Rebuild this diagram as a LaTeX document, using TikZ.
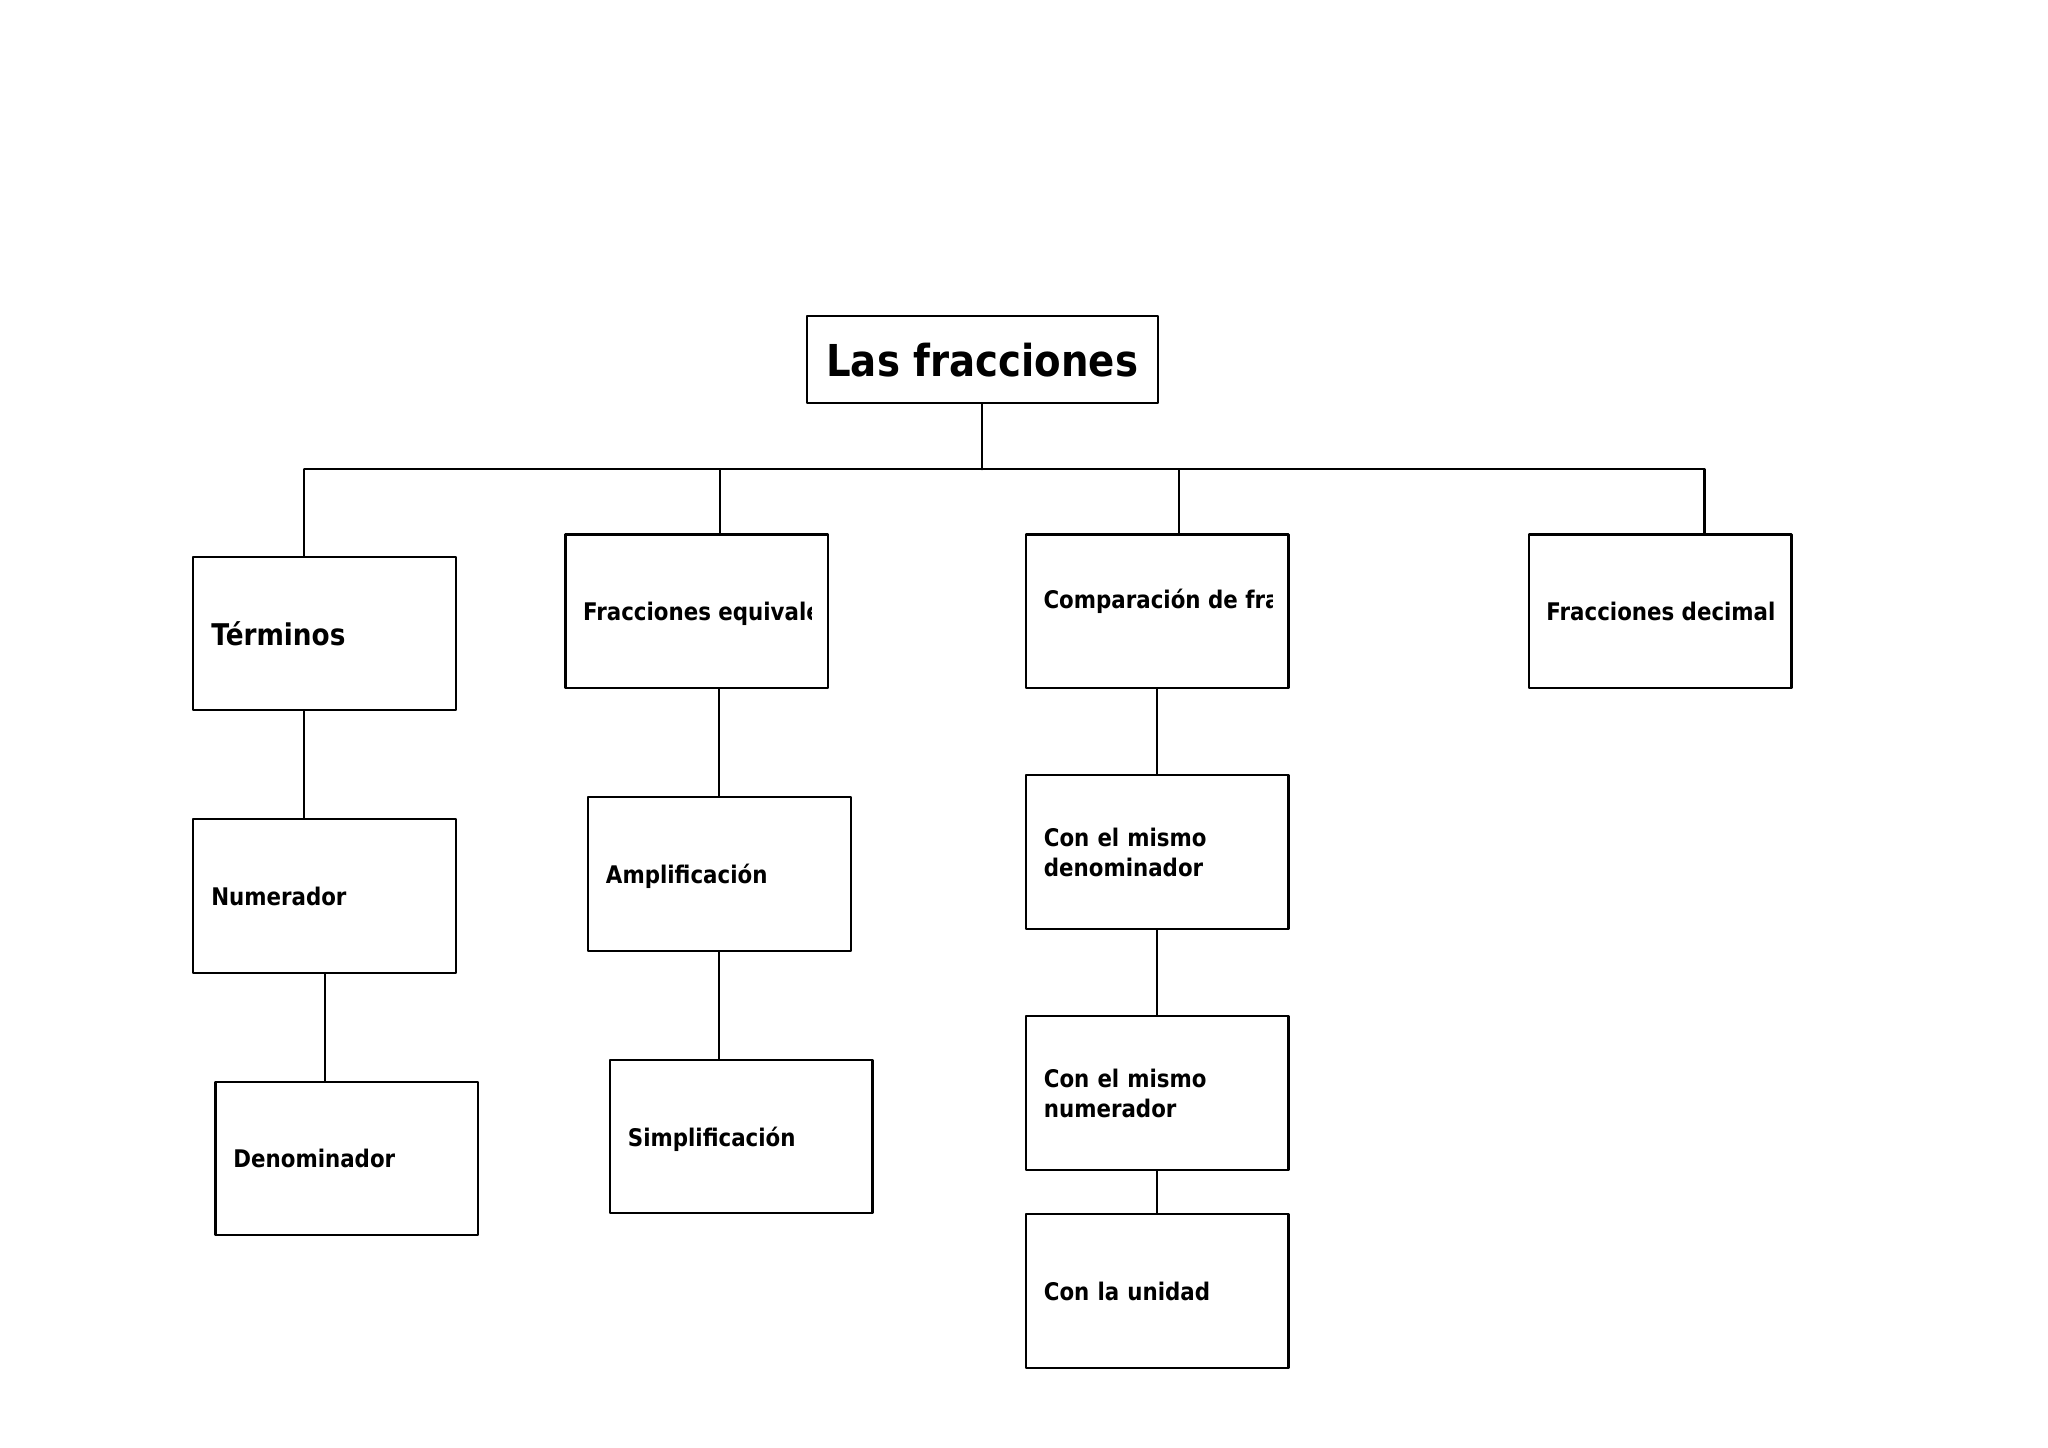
\documentclass[tikz,border=0pt]{standalone}
\usepackage{fontspec}
\newfontfamily\cajafont[FakeStretch=0.88]{DejaVu Sans}
\begin{document}
\begin{tikzpicture}[x=0.01cm,y=-0.01cm,line cap=round,line join=round,
  caja/.style={draw,line width=0.6pt,minimum width=2.625cm,minimum height=1.536cm,
    inner xsep=1.8mm,inner ysep=0pt,text width=2.265cm,align=left,text depth=0pt,
    font=\cajafont\bfseries\fontsize{6.9}{8.5}\selectfont},
  rotulo/.style={anchor=west,inner sep=0pt,text depth=0pt,
    font=\cajafont\bfseries\fontsize{6.9}{8.5}\selectfont}]
  \useasboundingbox (0,0) rectangle (2048,1447);
  \node[draw,line width=0.6pt,minimum width=3.51cm,minimum height=0.876cm,inner sep=0pt,
    text depth=0pt,font=\cajafont\bfseries\fontsize{12.5}{15}\selectfont] (tit) at (982.2,359.5) {Las fracciones};
  % primer nivel
  \node[caja,font=\cajafont\bfseries\fontsize{8.5}{10}\selectfont] (ter) at (324.6,633.5) {Términos};
  \node[caja] (fe) at (696.8,611.3) {};
  \node[caja] (comp) at (1157.2,611.3) {};
  \node[caja] (fd) at (1660.1,611.3) {};
  % segundo nivel
  \node[caja] (num) at (324.6,896.0) {Numerador};
  \node[caja] (den) at (346.8,1158.5) {Denominador};
  \node[caja] (amp) at (719.3,873.8) {Amplificación};
  \node[caja] (sim) at (741.2,1136.5) {Simplificación};
  \node[caja,text depth=] (cmd) at (1157.2,852.2) {Con el mismo\\denominador};
  \node[caja,text depth=] (cmn) at (1157.2,1093.0) {Con el mismo\\numerador};
  \node[caja] (cu) at (1157.2,1291.0) {Con la unidad};
  % textos cortados
  \begin{scope}
    \clip ([xshift=1.75mm]fe.south west) rectangle ([xshift=-1.75mm]fe.north east);
    \node[rotulo] (fe-t) at ([xshift=1.8mm]fe.west) {Fracciones equivalentes};
  \end{scope}
  \begin{scope}
    \clip ([xshift=1.75mm]comp.south west) rectangle ([xshift=-1.75mm]comp.north east);
    \node[rotulo] (comp-t) at ([xshift=1.8mm,yshift=1.3mm]comp.west) {Comparación de fracciones};
  \end{scope}
  \begin{scope}
    \clip ([xshift=1.75mm]fd.south west) rectangle ([xshift=-1.75mm]fd.north east);
    \node[rotulo] (fd-t) at ([xshift=1.8mm]fd.west) {Fracciones decimales};
  \end{scope}
  % barra
  \coordinate (b1) at (304.3,469.3); \coordinate (b2) at (719.7,469.3);
  \coordinate (b3) at (1179.4,469.3); \coordinate (b4) at (1704.5,469.3);
  \begin{scope}[line width=0.6pt]
    \draw (tit.south) -- (tit.south |- b1);
    \draw (b1) -- (b4);
    \draw (b1) -- (b1 |- ter.north);
    \draw (b2) -- (b2 |- fe.north);
    \draw (b3) -- (b3 |- comp.north);
    \draw (b4) -- (b4 |- fd.north);
    \draw (b1 |- ter.south) -- (b1 |- num.north);
    \draw (num.south) -- (num.south |- den.north);
    \draw (amp.north |- fe.south) -- (amp.north);
    \draw (amp.south) -- (amp.south |- sim.north);
    \draw (comp.south) -- (cmd.north);
    \draw (cmd.south) -- (cmn.north);
    \draw (cmn.south) -- (cu.north);
  \end{scope}
\end{tikzpicture}
\end{document}
